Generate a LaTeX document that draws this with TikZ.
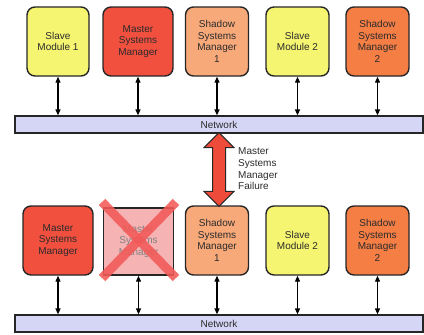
\documentclass[tikz,border=0pt]{standalone}
\usepackage{fontspec}
\setmainfont{Liberation Sans}
\usetikzlibrary{arrows.meta,calc}

\definecolor{slavefill}{HTML}{F6F571}
\definecolor{masterfill}{HTML}{F2503F}
\definecolor{shadowonefill}{HTML}{F8A97A}
\definecolor{shadowtwofill}{HTML}{F57E45}
\definecolor{deadfill}{HTML}{F6B3B3}
\definecolor{netfill}{HTML}{D5D5F5}
\definecolor{edge}{HTML}{262626}
\definecolor{ink}{HTML}{2B2B2B}
\definecolor{failarrow}{HTML}{EE4B3B}
\definecolor{crossred}{HTML}{F25A58}

\tikzset{
  module/.style={draw=edge, line width=1.4pt, rounded corners=8pt,
    minimum height=69pt, align=center, text=ink,
    font=\fontsize{10}{11.7}\selectfont, inner sep=1pt},
  deadmodule/.style={module, rounded corners=0pt, fill=deadfill,
    minimum height=67pt, text=ink!60},
  netbar/.style={draw=edge, line width=1.2pt, fill=netfill,
    minimum width=408pt, minimum height=17pt, text=ink,
    font=\fontsize{10}{12}\selectfont, inner sep=0pt},
  link/.style={draw=black, line width=1.2pt,
    {Triangle[width=5pt,length=6pt]}-{Triangle[width=5pt,length=6pt]}},
  bigarrow/.style={draw=edge, line width=1pt, fill=failarrow, line join=miter},
  cross/.style={draw=crossred, line width=9pt, opacity=0.88},
  note/.style={align=left, text=ink, font=\fontsize{10}{11.7}\selectfont,
    inner sep=0pt, anchor=west}
}

\begin{document}
\begin{tikzpicture}[x=1pt,y=-1pt]
\useasboundingbox (0,0) rectangle (424,335);

% upper configuration
\node[module, fill=slavefill, minimum width=62pt] (ts1) at (58,41.5) {Slave\\Module 1};
\node[module, fill=masterfill, minimum width=70pt] (tmsm) at (138,41.5) {Master\\Systems\\Manager};
\node[module, fill=shadowonefill, minimum width=63pt] (tsh1) at (217,41.5) {Shadow\\Systems\\Manager\\1};
\node[module, fill=slavefill, minimum width=63pt] (ts2) at (297.5,41.5) {Slave\\Module 2};
\node[module, fill=shadowtwofill, minimum width=63pt] (tsh2) at (377.5,41.5) {Shadow\\Systems\\Manager\\2};
\node[netbar] (tnet) at (219,124.5) {Network};

\foreach \m in {ts1, tmsm, tsh1, ts2, tsh2}
  \draw[link] (\m.south) -- (\m.south |- tnet.north);

% lower configuration
\node[module, fill=masterfill, minimum width=70pt] (bmsm) at (58,240.5) {Master\\Systems\\Manager};
\node[deadmodule, minimum width=70pt] (bdead) at (138.5,241.5) {Master\\Systems\\Manager};
\node[module, fill=shadowonefill, minimum width=63pt] (bsh1) at (217,240.5) {Shadow\\Systems\\Manager\\1};
\node[module, fill=slavefill, minimum width=63pt] (bs2) at (297.5,240.5) {Slave\\Module 2};
\node[module, fill=shadowtwofill, minimum width=63pt] (bsh2) at (377.5,240.5) {Shadow\\Systems\\Manager\\2};
\node[netbar] (bnet) at (219,323.5) {Network};

\foreach \m in {bmsm, bdead, bsh1, bs2, bsh2}
  \draw[link] (\m.south) -- (\m.south |- bnet.north);

% failover arrow between the two configurations
\coordinate (ftop) at ($(tnet.south)+(0,-1)$);
\coordinate (fbot) at ($(bsh1.north)+(2,1)$);
\draw[bigarrow] (ftop) -- ++(15,15) -- ++(-8.5,0) -- ($(fbot)+(6.5,-15)$)
  -- ++(8.5,0) -- (fbot) -- ++(-15,-15) -- ++(8.5,0) -- ($(ftop)+(-6.5,15)$)
  -- ++(-8.5,0) -- cycle;
\node[note] (failtext) at (238,169) {Master\\Systems\\Manager\\Failure};

% failed manager crossed out
\draw[cross] (102,202) -- (176,278);
\draw[cross] (176,202) -- (102,278);
\end{tikzpicture}
\end{document}
